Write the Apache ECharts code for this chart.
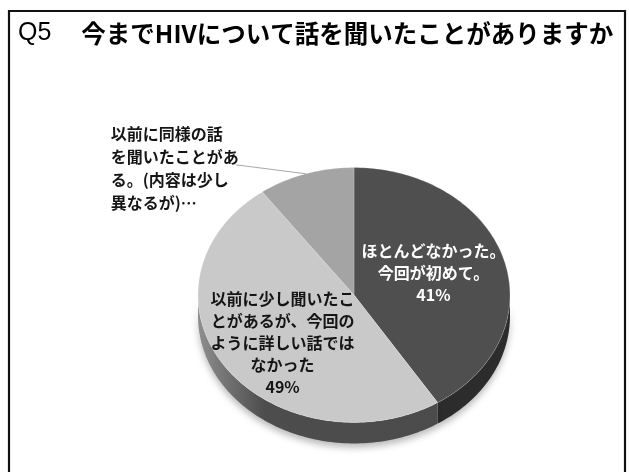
<!DOCTYPE html>
<html>
<head>
<meta charset="utf-8">
<script src="https://cdn.jsdelivr.net/npm/echarts@6/dist/echarts.min.js"></script>
<style>
  html, body { margin: 0; padding: 0; background: #fff; }
  #chart { width: 629px; height: 472px; }
</style>
</head>
<body>
<div id="chart"></div>
<script>
// Survey answers, clockwise from 12 o'clock
const categories = [
  'ほとんどなかった。\n今回が初めて。',
  '以前に少し聞いたこ\nとがあるが、今回の\nように詳しい話では\nなかった',
  '以前に同様の話\nを聞いたことがあ\nる。(内容は少し\n異なるが)…'
];
const values = [41, 49, 10];
const showPercent = [true, true, false];
const titleQ = 'Q5';
const titleText = '今までHIVについて話を聞いたことがありますか';

// Look of each slice: top face, side wall, label colour
const faceColors = ['#4f4f4f', '#c9c9c9', '#a4a4a4'];
const wallColors = ['#2c2c2c', '#4b4b4b', '#6a6a6a'];
const labelColors = ['#ffffff', '#151515', '#151515'];
const labelRadius = [0.53, 0.6, 1];
const labelNudge = [[0, -3], [6, 5], [0, 0]];
const TILT = 0.817;   // vertical squash of the tilted disc
const DEPTH = 21;     // thickness of the disc in px

const total = values.reduce((a, b) => a + b, 0);
let acc = 0;
const sliceData = values.map((v, i) => {
  const item = { value: [acc, acc + v], name: categories[i] };
  acc += v;
  return item;
});

const chart = echarts.init(document.getElementById('chart'));

function renderSlice(params, api) {
  const i = params.dataIndex;
  const a0 = api.value(0), a1 = api.value(1);
  const c = api.coord([0, 0]);
  const pt = (r, a, dy) => {
    const p = api.coord([r, a]);
    return [p[0], c[1] + (p[1] - c[1]) * TILT + (dy || 0)];
  };
  const arc = (s, e, dy) => {
    const out = [];
    const n = Math.max(2, Math.ceil((e - s) * 3));
    for (let k = 0; k <= n; k++) out.push(pt(1, s + (e - s) * k / n, dy));
    return out;
  };
  const children = [];

  // front side wall (visible between 3 o'clock and 9 o'clock)
  const ws = Math.max(a0, 25), we = Math.min(a1, 75);
  if (we > ws) {
    const top = arc(ws, we, 0);
    const bottom = arc(ws, we, DEPTH).reverse();
    const fill = i === 1
      ? new echarts.graphic.LinearGradient(0, 0, 1, 0, [
          { offset: 0, color: '#8e8e8e' },
          { offset: 0.28, color: '#4d4d4d' },
          { offset: 1, color: wallColors[i] }
        ])
      : wallColors[i];
    children.push({
      type: 'polygon',
      z2: 1,
      shape: { points: top.concat(bottom) },
      style: {
        fill: fill,
        shadowColor: 'rgba(0,0,0,0.28)',
        shadowBlur: 7,
        shadowOffsetY: 4
      }
    });
  }

  // top face
  children.push({
    type: 'polygon',
    z2: 2,
    shape: { points: [[c[0], c[1]]].concat(arc(a0, a1, 0)) },
    style: { fill: faceColors[i], stroke: 'rgba(255,255,255,0.35)', lineWidth: 0.6 }
  });

  const mid = (a0 + a1) / 2;
  const pct = Math.round((a1 - a0) / total * 100) + '%';
  const txt = categories[i] + (showPercent[i] ? '\n' + pct : '');
  const font = 'bold 16px "Noto Sans CJK JP", sans-serif';

  if (labelRadius[i] < 1) {
    const p = pt(labelRadius[i], mid, 0);
    children.push({
      type: 'text',
      z2: 3,
      x: p[0] + labelNudge[i][0], y: p[1] + labelNudge[i][1],
      style: {
        text: txt, font: font, fill: labelColors[i],
        align: 'center', verticalAlign: 'middle', lineHeight: 22
      }
    });
  } else {
    // outside label with a leader line
    const p = pt(1, mid, 0);
    const q = [p[0] - 70, p[1] - 9];
    children.push({
      type: 'polyline',
      z2: 3,
      shape: { points: [p, q] },
      style: { stroke: '#a8a8a8', lineWidth: 1, fill: null }
    });
    children.push({
      type: 'text',
      z2: 3,
      x: q[0] - 125, y: q[1] + 4,
      style: {
        text: txt, font: font, fill: labelColors[i],
        align: 'left', verticalAlign: 'middle', lineHeight: 23
      }
    });
  }
  return { type: 'group', children: children };
}

chart.setOption({
  animation: false,
  backgroundColor: '#ffffff',
  title: {
    left: 13,
    top: 16,
    text: '{q|' + titleQ + '}{s|}{t|' + titleText + '}',
    textStyle: {
      rich: {
        q: { fontFamily: '"Liberation Sans", Arial, sans-serif', fontSize: 25, fontWeight: 'normal', color: '#000' },
        s: { width: 30 },
        t: { fontFamily: '"Noto Sans CJK JP", sans-serif', fontSize: 24.5, fontWeight: 'bold', color: '#000' }
      }
    }
  },
  graphic: [{
    type: 'rect',
    shape: { x: 9, y: 11, width: 616, height: 520 },
    style: { fill: null, stroke: '#111', lineWidth: 2.2 }
  }],
  polar: { center: [354, 295], radius: 156 },
  angleAxis: { type: 'value', min: 0, max: total, startAngle: 90, clockwise: true, show: false },
  radiusAxis: { type: 'value', min: 0, max: 1, show: false },
  series: [{
    type: 'custom',
    coordinateSystem: 'polar',
    renderItem: renderSlice,
    data: sliceData
  }]
});
</script>
</body>
</html>
